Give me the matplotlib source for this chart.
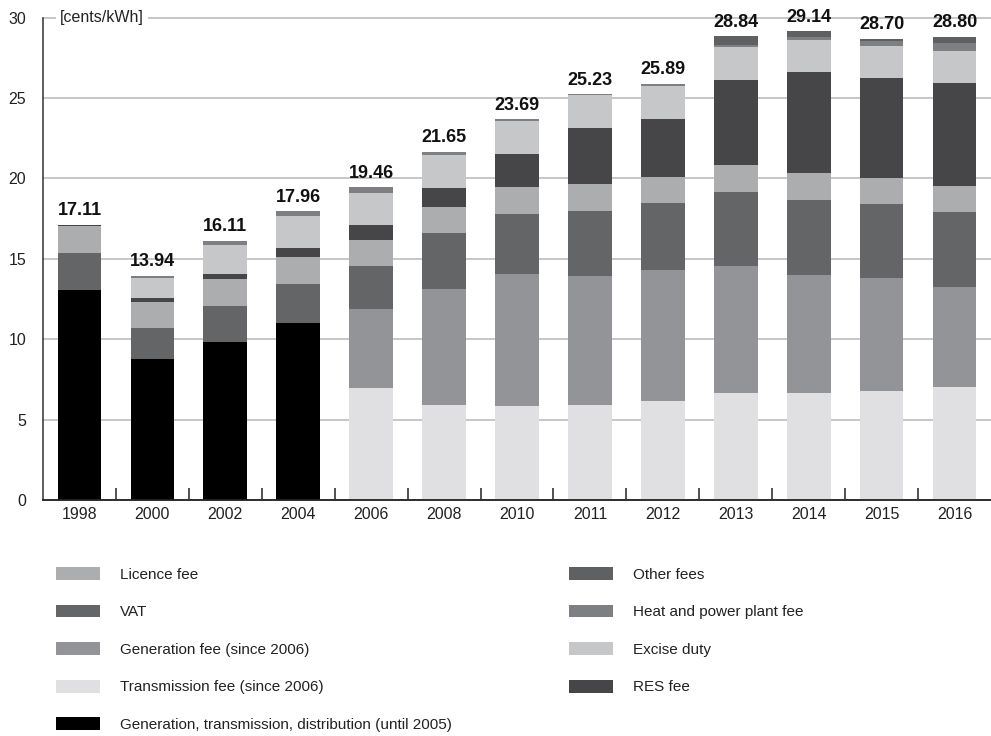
import matplotlib
matplotlib.use("Agg")
import matplotlib.pyplot as plt
import numpy as np
from matplotlib.font_manager import fontManager
from matplotlib.patches import Patch

years = ['1998', '2000', '2002', '2004', '2006', '2008', '2010',
         '2011', '2012', '2013', '2014', '2015', '2016']
totals = [17.11, 13.94, 16.11, 17.96, 19.46, 21.65, 23.69,
          25.23, 25.89, 28.84, 29.14, 28.70, 28.80]

# components in cents/kWh, stacked from bottom to top
gen_trans_dist = [13.06, 8.77, 9.83, 11.01, 0, 0, 0, 0, 0, 0, 0, 0, 0]
transmission = [0, 0, 0, 0, 6.98, 5.91, 5.85, 5.91, 6.16, 6.65, 6.65, 6.78, 7.03]
generation = [0, 0, 0, 0, 4.90, 7.21, 8.20, 8.02, 8.14, 7.90, 7.34, 7.03, 6.22]
vat = [2.32, 1.93, 2.23, 2.42, 2.67, 3.48, 3.74, 4.04, 4.17, 4.60, 4.67, 4.60, 4.66]
licence = [1.68, 1.61, 1.68, 1.68, 1.62, 1.62, 1.68, 1.68, 1.62, 1.68, 1.68, 1.61, 1.62]
res_fee = [0.05, 0.25, 0.31, 0.56, 0.93, 1.18, 2.05, 3.48, 3.60, 5.29, 6.28, 6.22, 6.40]
excise = [0, 1.26, 1.81, 1.99, 1.99, 2.07, 2.07, 2.06, 2.06, 2.05, 1.99, 1.99, 1.99]
heat_power = [0, 0.12, 0.25, 0.30, 0.37, 0.18, 0.10, 0.04, 0.14, 0.13, 0.18, 0.31, 0.50]
other_fees = [0, 0, 0, 0, 0, 0, 0, 0, 0, 0.54, 0.35, 0.16, 0.38]

c_lic = '#acadaf'
c_vat = '#646567'
c_gen = '#939497'
c_trans = '#e0e0e2'
c_gtd = '#000000'
c_other = '#5f6062'
c_heat = '#7e7f82'
c_exc = '#c6c7c9'
c_res = '#464648'

names = {f.name for f in fontManager.ttflist}
if 'Liberation Sans Narrow' in names:
    leg_font, leg_size = 'Liberation Sans Narrow', 13
else:
    leg_font, leg_size = 'Liberation Sans', 11
plt.rcParams['font.family'] = ['Liberation Sans', 'DejaVu Sans']

fig = plt.figure(figsize=(9.91, 7.36), dpi=100)
ax = fig.add_axes([43 / 991, 236 / 736, 948 / 991, 482.4 / 736])

x = np.arange(len(years))
width = 0.6
bottom = np.zeros(len(years))
layers = [(gen_trans_dist, c_gtd), (transmission, c_trans), (generation, c_gen),
          (vat, c_vat), (licence, c_lic), (res_fee, c_res), (excise, c_exc),
          (heat_power, c_heat), (other_fees, c_other)]
for vals, col in layers:
    vals = np.array(vals)
    ax.bar(x, vals, width, bottom=bottom, color=col, linewidth=0, zorder=3)
    bottom += vals

for i, t in enumerate(totals):
    ax.annotate('%.2f' % t, (x[i], bottom[i]), xytext=(0, 4), textcoords='offset points',
                ha='center', va='bottom', fontsize=13, fontweight='bold', color='#111111',
                zorder=5)

ax.set_xlim(-0.5, len(years) - 0.5)
ax.set_ylim(0, 30)
ax.set_yticks([0, 5, 10, 15, 20, 25, 30])
ax.yaxis.grid(True, color='#b8b8b8', linewidth=1.1, zorder=0)
for gl in ax.get_ygridlines():
    gl.set_clip_on(False)
ax.set_axisbelow(True)
ax.spines['top'].set_visible(False)
ax.spines['right'].set_visible(False)
ax.spines['left'].set_color('#333333')
ax.spines['bottom'].set_color('#222222')
ax.spines['left'].set_linewidth(1.1)
ax.spines['bottom'].set_linewidth(1.3)
ax.spines['bottom'].set_zorder(4)

ax.set_xticks(x)
ax.set_xticklabels(years)
ax.set_xticks(x[:-1] + 0.5, minor=True)
ax.tick_params(axis='x', which='major', length=0, pad=5, labelsize=11.5, labelcolor='#222222')
ax.tick_params(axis='x', which='minor', direction='in', length=9, width=1.1, color='#222222')
ax.tick_params(axis='y', length=0, pad=12, labelsize=11.5, labelcolor='#222222')

ax.text(-0.27, 30, '[cents/kWh]', ha='left', va='center', fontsize=11.5, color='#222222',
        bbox=dict(facecolor='white', edgecolor='none', pad=3), zorder=6, clip_on=False)

left_items = [('Licence fee', c_lic), ('VAT', c_vat), ('Generation fee (since 2006)', c_gen),
              ('Transmission fee (since 2006)', c_trans),
              ('Generation, transmission, distribution (until 2005)', c_gtd)]
right_items = [('Other fees', c_other), ('Heat and power plant fee', c_heat),
               ('Excise duty', c_exc), ('RES fee', c_res)]

fpx = leg_size * 100 / 72.0
for items, xpos in [(left_items, 56), (right_items, 569)]:
    handles = [Patch(facecolor=c, edgecolor='none', label=l) for l, c in items]
    fig.legend(handles=handles, loc='upper left', bbox_to_anchor=(xpos / 991, 1 - 567 / 736),
               frameon=False, borderpad=0, borderaxespad=0,
               handlelength=44 / fpx, handleheight=14 / fpx, handletextpad=20 / fpx,
               labelspacing=1.5, prop={'family': [leg_font, 'DejaVu Sans'], 'size': leg_size},
               labelcolor='#222222')

fig.savefig('out.png', dpi=100)
